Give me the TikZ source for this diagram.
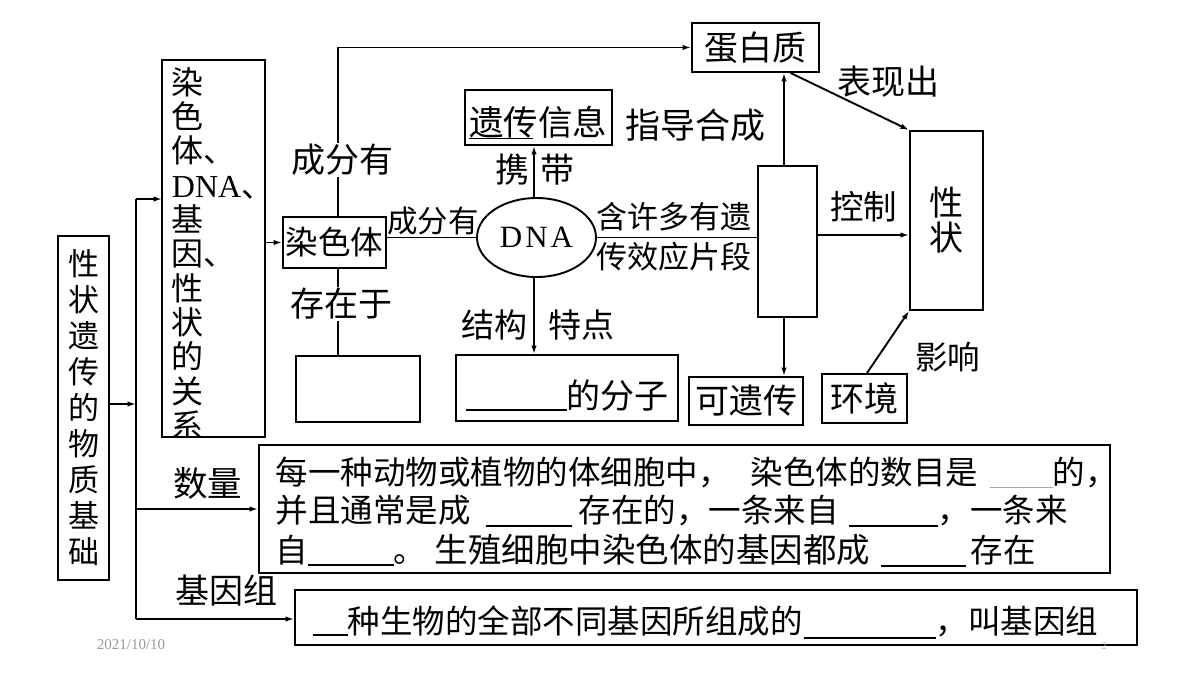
\documentclass[tikz,border=0pt]{standalone}
\usepackage{fontspec}
\setmainfont{Liberation Serif}
\newfontfamily\cjk{Noto Sans CJK SC}
\usetikzlibrary{arrows.meta,shapes.geometric}
\newcommand\cjkfs[1]{\cjk\fontsize{#1}{#1}\selectfont}
\begin{document}
\begin{tikzpicture}[x=1pt,y=-1pt,
  line width=1.9pt,
  arr/.style={-{Latex[length=8.5pt,width=5.5pt]}},
  box/.style={draw, inner sep=0pt, font=\cjkfs{34}},
  lbl/.style={inner sep=0pt, font=\cjkfs{34}},
  wlbl/.style={lbl, fill=white, inner sep=1.5pt},
  txt/.style={inner sep=0pt, anchor=base west, font=\cjkfs{32.5}},
  blankln/.style={inner sep=0pt, anchor=base west},
]
\useasboundingbox[fill=white] (0,0) rectangle (1200,675);

% ---------- left column ----------
\node[box, minimum width=51, minimum height=344, align=center,
      font=\cjk\fontsize{31}{36}\selectfont] (base) at (83.5,408)
      {性\\状\\遗\\传\\的\\物\\质\\基\\础};

\node[minimum width=101, minimum height=375, inner sep=0pt] (rel) at (213.5,248.5) {};
\begin{scope}
  \clip (163,61) rectangle (264,436);
  \node[anchor=west, align=left, inner sep=0pt,
        font=\cjk\fontsize{32}{34.3}\selectfont] (reltxt) at (171,253.5)
        {染\\色\\体、\\{\rmfamily DNA}、\\基\\因、\\性\\状\\的\\关\\系};
\end{scope}
\draw (rel.north west) rectangle (rel.south east);

\coordinate (jn) at (136,404);
\coordinate (trunkTop) at (136,199);
\coordinate (trunkBot) at (136,619);

% ---------- upper diagram ----------
\node[box, minimum width=103, minimum height=51, font=\cjkfs{32.5}] (chr) at (334.5,242.5) {染色体};
\node[box, minimum width=127, minimum height=49] (prot) at (755.5,47.5) {蛋白质};
\node[draw, minimum width=147, minimum height=55, inner sep=0pt] (info) at (538.5,117.5) {};
\node[lbl, font=\cjkfs{34.5}] (infotxt) at (538,122)
      {\rlap{\smash{\rule[-4pt]{64pt}{1.5pt}}}遗传信息};
\node[draw, ellipse, minimum width=119, minimum height=79, inner sep=0pt,
      font=\fontsize{31}{31}\selectfont] (dna) at (536.5,237.5) {D\kern3pt N\kern3pt A};
\node[draw, minimum width=59, minimum height=151, inner sep=0pt] (gene) at (787.5,241.5) {};
\node[box, minimum width=73, minimum height=179, align=center,
      font=\cjk\fontsize{34}{35}\selectfont] (trait) at (946.5,220.5) {性\\状};
\node[box, minimum width=114, minimum height=48] (her) at (746,401) {可遗传};
\node[box, minimum width=85, minimum height=49] (env) at (864.5,398.5) {环境};
\node[draw, minimum width=222, minimum height=66, inner sep=0pt] (mol) at (567,388) {};
\node[txt, font=\cjkfs{34}] (moltxt) at (465,408) {\rule[-3pt]{101pt}{1.8pt}的分子};
\node[draw, minimum width=124, minimum height=66, inner sep=0pt] (blank) at (358,389) {};

% ---------- lower boxes ----------
\node[draw, minimum width=851, minimum height=128, inner sep=0pt] (num) at (684.5,509) {};
\node[draw, minimum width=842, minimum height=55, inner sep=0pt] (gen) at (716,617.5) {};

% line 1
\node[txt] (l1a) at (275,484) {每一种动物或植物的体细胞中，};
\node[txt] (l1b) at (750,484) {染色体的数目是};
\node[blankln] (l1c) at (989,484) {\color{gray!70}\rule[-3.5pt]{63pt}{0.9pt}};
\node[txt] (l1d) at (1052,484) {的，};
% line 2
\node[txt] (l2a) at (275,522) {并且通常是成};
\node[blankln] (l2b) at (485,522) {\rule[-5pt]{86pt}{1.8pt}};
\node[txt] (l2c) at (578,522) {存在的，一条来自};
\node[blankln] (l2d) at (848,522) {\rule[-5pt]{89pt}{1.8pt}};
\node[txt] (l2e) at (937,522) {，一条来};
% line 3
\node[txt] (l3a) at (275,562) {自};
\node[blankln] (l3b) at (307,562) {\rule[-4pt]{86pt}{1.8pt}};
\node[txt] (l3c) at (393,562) {。};
\node[txt, font=\cjkfs{33.5}] (l3d) at (434,562) {生殖细胞中染色体的基因都成};
\node[blankln] (l3e) at (880,562) {\rule[-5pt]{85pt}{1.8pt}};
\node[txt] (l3f) at (970,562) {存在};
% genome line
\node[blankln] (g1) at (312,633) {\rule[-3pt]{35pt}{1.8pt}};
\node[txt] (g2) at (347,633) {种生物的全部不同基因所组成的};
\node[blankln] (g3) at (803,633) {\rule[-5.5pt]{132pt}{1.3pt}};
\node[txt] (g4) at (935,633) {，叫基因组};

% ---------- connectors ----------
\draw[arr] (base.east |- jn) -- (jn);
\draw (trunkTop) -- (trunkBot);
\draw[arr] (trunkTop) -- (trunkTop -| rel.west);
\draw[arr] (trunkTop |- num.west) -- (num.west);
\draw[arr] (trunkBot) -- (trunkBot -| gen.west);
\draw[arr] (rel.east |- chr.west) -- (chr.west);

\draw[arr] ([xshift=3.5pt]chr.north) |- (prot.west);
\draw ([xshift=3.5pt]chr.south) -- ([xshift=3.5pt]chr.south |- blank.north);
\draw (chr.east |- dna.west) -- (dna.west);
\draw[arr] ([xshift=-2.5pt]dna.north) -- ([xshift=-2.5pt]dna.north |- info.south);
\draw[arr] ([xshift=-2.5pt]dna.south) -- ([xshift=-2.5pt]dna.south |- mol.north);
\draw (dna.east) -- (dna.east -| gene.west);
\draw[arr] ([xshift=-3.5pt]gene.north) -- ([xshift=-3.5pt]gene.north |- prot.south);
\draw[arr] ([xshift=-3.5pt]gene.south) -- ([xshift=-3.5pt]gene.south |- her.north);
\coordinate (yctl) at (0,235);
\draw[arr] (gene.east |- yctl) -- (trait.west |- yctl);
\draw[arr] ([xshift=35pt]prot.south) -- (trait.north west);
\draw[arr] ([xshift=2.5pt]env.north) -- (trait.south west);

% ---------- labels ----------
\node[wlbl] (lcf1) at (342,160) {成分有};
\node[wlbl] (lczy) at (341,304) {存在于};
\node[lbl, font=\cjkfs{30.5}] (lcf2) at (433,221) {成分有};
\node[lbl] (lxie) at (512,170) {携};
\node[lbl] (ldai) at (557,170) {带};
\node[lbl, font=\cjkfs{35}] (lzd) at (695,125) {指导合成};
\node[lbl, font=\cjkfs{31}] (lhan) at (673.5,217) {含许多有遗};
\node[lbl, font=\cjkfs{31}] (lcxy) at (673.5,257) {传效应片段};
\node[lbl, font=\cjkfs{33}] (ljg) at (494,325) {结构};
\node[lbl, font=\cjkfs{33}] (ltd) at (581,325) {特点};
\node[lbl] (lbx) at (888.5,82) {表现出};
\node[lbl, font=\cjkfs{33.5}] (lkz) at (863.5,207) {控制};
\node[lbl, font=\cjkfs{32.5}] (lyx) at (947.5,357) {影响};
\node[lbl, font=\cjkfs{34.5}] (lsl) at (207.5,483) {数量};
\node[lbl] (ljyz) at (226.5,591) {基因组};

% ---------- footer ----------
\node[inner sep=0pt, text=gray!80, font=\fontsize{15}{15}\selectfont] (date) at (131,645) {2021/10/10};
\node[inner sep=0pt, text=gray!50, font=\fontsize{11}{11}\selectfont] (pg) at (1104,646) {2};
\end{tikzpicture}
\end{document}
